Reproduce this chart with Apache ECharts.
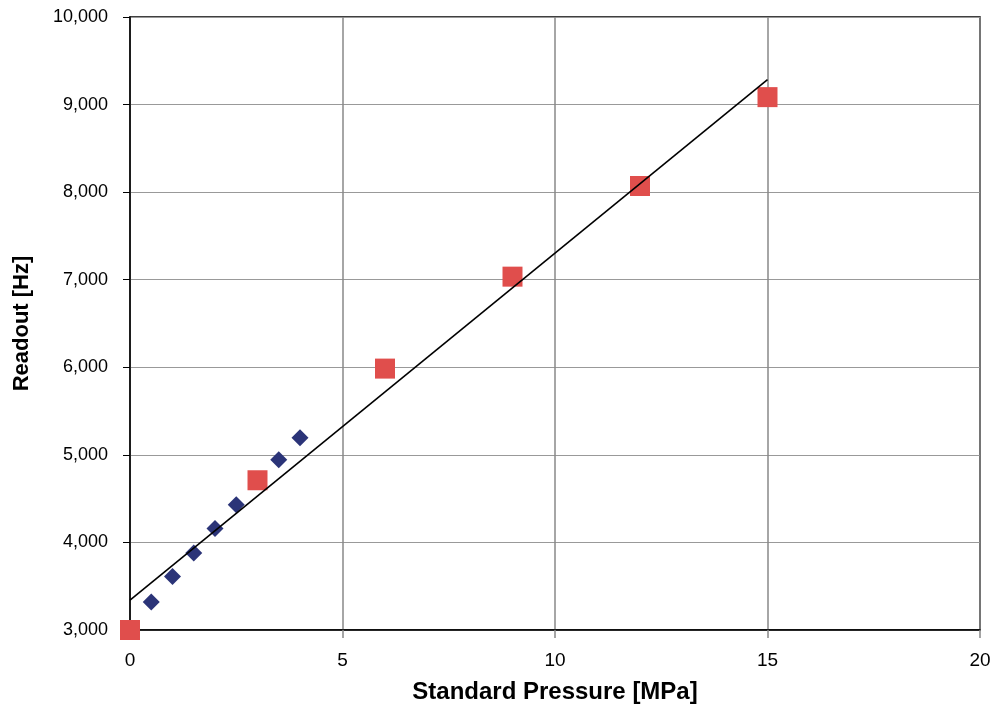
<!DOCTYPE html>
<html><head><meta charset="utf-8">
<script src="https://cdn.jsdelivr.net/npm/echarts@6/dist/echarts.min.js"></script>
<style>html,body{margin:0;padding:0;background:#fff}#c{width:990px;height:718px}</style>
</head><body><div id="c"></div>
<script>
const diamondX = [0, 0.5, 1, 1.5, 2, 2.5, 3.5, 4];
const diamondY = [3000, 3320, 3610, 3880, 4160, 4430, 4945, 5195];
const squareX = [0, 3, 6, 9, 12, 15];
const squareY = [3000, 4710, 5985, 7035, 8070, 9085];
const fitX = [0, 15];
const fitY = [3340, 9285];
const xTicks = [0, 5, 10, 15, 20];
const yTicks = [3000, 4000, 5000, 6000, 7000, 8000, 9000, 10000];

const zip = (a, b) => a.map((v, i) => [v, b[i]]);
const chart = echarts.init(document.getElementById('c'), null, {renderer: 'canvas'});
chart.setOption({
  animation: false,
  backgroundColor: '#fff',
  grid: {left: 130, right: 10, top: 17, bottom: 88, show: true, borderColor: '#000', borderWidth: 1.5,
         containLabel: false, outerBoundsMode: 'none'},
  xAxis: {
    type: 'value', min: xTicks[0], max: xTicks[xTicks.length - 1], interval: 5,
    name: 'Standard Pressure [MPa]', nameLocation: 'middle', nameGap: 50,
    nameTextStyle: {fontFamily: 'Liberation Sans', fontWeight: 'bold', fontSize: 24, color: '#000'},
    axisLine: {show: true, lineStyle: {color: '#000', width: 1.5}},
    axisTick: {show: true, length: 8, lineStyle: {color: '#888', width: 1.5}},
    axisLabel: {fontFamily: 'Liberation Sans', fontSize: 19, color: '#000', margin: 21},
    splitLine: {show: true, lineStyle: {color: '#888', width: 1.5}}
  },
  yAxis: {
    type: 'value', min: yTicks[0], max: yTicks[yTicks.length - 1], interval: 1000,
    name: 'Readout [Hz]', nameLocation: 'middle', nameGap: 97,
    nameTextStyle: {fontFamily: 'Liberation Sans', fontWeight: 'bold', fontSize: 22, color: '#000'},
    axisLine: {show: true, lineStyle: {color: '#000', width: 1.5}},
    axisTick: {show: true, length: 7, lineStyle: {color: '#000', width: 1}},
    axisLabel: {fontFamily: 'Liberation Sans', fontSize: 18, color: '#000', margin: 22,
      formatter: v => v.toLocaleString('en-US')},
    splitLine: {show: true, lineStyle: {color: '#999', width: 1}}
  },
  series: [
    {type: 'scatter', data: zip(diamondX, diamondY), symbol: 'diamond', symbolSize: 17,
     itemStyle: {color: '#2B3478', opacity: 1}, z: 2},
    {type: 'scatter', data: zip(squareX, squareY), symbol: 'rect', symbolSize: 20,
     itemStyle: {color: '#E04E4C', opacity: 1}, z: 3},
    {type: 'line', data: zip(fitX, fitY), symbol: 'none', lineStyle: {color: '#000', width: 1.6}, z: 4}
  ]
});
</script></body></html>
